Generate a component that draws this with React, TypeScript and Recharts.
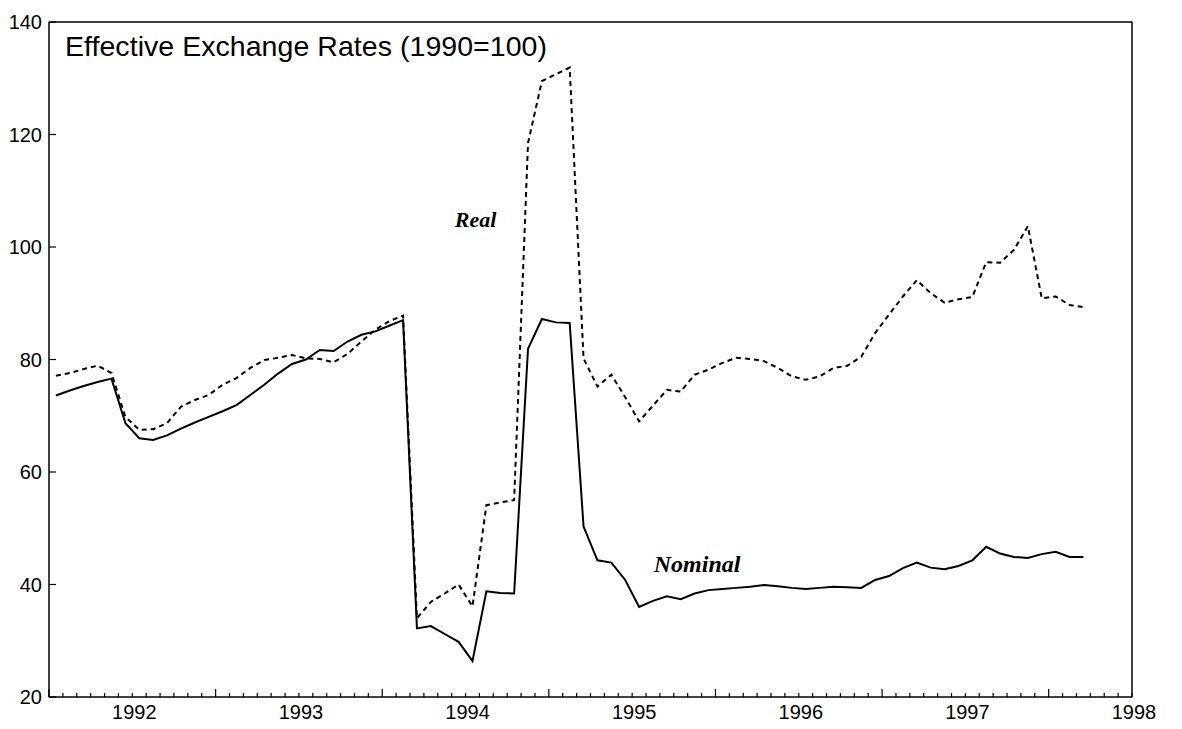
import React from "react";
import { LineChart, Line, XAxis, YAxis, ReferenceLine, ReferenceDot } from "recharts";

// Monthly series, July 1991 .. September 1997
const startYear = 1991;
const startMonth = 6; // July (0-based)

const nominal = [
  // 1991 Jul-Dec
  73.6, 74.5, 75.3, 76.0, 76.6, 68.7,
  // 1992
  66.0, 65.7, 66.5, 67.7, 68.8, 69.8, 70.8, 71.9, 73.7, 75.5, 77.5, 79.2,
  // 1993
  80.0, 81.7, 81.5, 83.2, 84.4, 85.0, 86.0, 87.0, 32.2, 32.6, 31.2, 29.8,
  // 1994
  26.4, 38.8, 38.5, 38.4, 81.9, 87.2, 86.6, 86.5, 50.3, 44.3, 43.9, 40.8,
  // 1995
  36.0, 37.1, 37.9, 37.4, 38.4, 39.0, 39.2, 39.4, 39.6, 39.9, 39.7, 39.4,
  // 1996
  39.2, 39.4, 39.6, 39.5, 39.4, 40.8, 41.5, 42.9, 43.9, 43.0, 42.7, 43.3,
  // 1997 Jan-Sep
  44.3, 46.7, 45.5, 44.9, 44.7, 45.4, 45.8, 44.9, 44.9,
];

const real = [
  // 1991 Jul-Dec
  77.1, 77.6, 78.3, 78.9, 77.6, 69.8,
  // 1992
  67.5, 67.6, 68.7, 71.6, 72.8, 73.7, 75.5, 76.7, 78.5, 79.9, 80.3, 80.8,
  // 1993
  80.2, 80.1, 79.5, 81.0, 83.2, 85.3, 86.8, 87.8, 34.0, 36.9, 38.4, 40.0,
  // 1994
  36.1, 54.1, 54.6, 55.0, 118.5, 129.5, 130.7, 131.9, 80.2, 75.2, 77.3, 73.3,
  // 1995
  69.0, 71.8, 74.6, 74.3, 77.3, 78.2, 79.4, 80.3, 80.1, 79.7, 78.5, 77.0,
  // 1996
  76.4, 77.0, 78.5, 78.9, 80.5, 84.7, 88.0, 91.2, 94.1, 91.8, 90.1, 90.7,
  // 1997 Jan-Sep
  91.1, 97.3, 97.2, 99.5, 103.7, 90.9, 91.2, 89.7, 89.3,
];

const yTicks = [20, 40, 60, 80, 100, 120, 140];
const xDomain = [1991.5, 1998];
const titleText = "Effective Exchange Rates (1990=100)";
const realLabel = { text: "Real", x: 1994.06, y: 105 };
const nominalLabel = { text: "Nominal", x: 1995.39, y: 43.8 };

const data = nominal.map((n, i) => ({
  t: startYear + (startMonth + i + 0.5) / 12,
  nominal: n,
  real: real[i],
}));

// monthly tick marks along the time axis
const monthTicks = Array.from({ length: 79 }, (_, k) => xDomain[0] + k / 12);

const AXIS_FONT = "'Liberation Sans', Arial, sans-serif";
const TICK_FS = 20;

const XTick = (props: any) => {
  const { x, y, payload } = props;
  const v = payload.value as number;
  const frac = v - Math.floor(v + 1e-6);
  const isJan = Math.abs(frac) < 1e-6;
  const isJul = Math.abs(frac - 0.5) < 1e-6;
  const len = isJul ? 8 : 4;
  return (
    <g>
      <line x1={x} x2={x} y1={y} y2={y - len} stroke="#000" strokeWidth={1.2} />
      {isJan && (
        <text x={x + 2} y={y + 22} textAnchor="middle" fontFamily={AXIS_FONT} fontSize={TICK_FS} fill="#000">
          {Math.round(v)}
        </text>
      )}
    </g>
  );
};

const LeftTick = (props: any) => {
  const { x, y, payload } = props;
  return (
    <g>
      <line x1={x} x2={x + 7} y1={y} y2={y} stroke="#000" strokeWidth={1.2} />
      <text x={x - 7} y={y} dy="0.35em" textAnchor="end" fontFamily={AXIS_FONT} fontSize={TICK_FS} fill="#000">
        {payload.value}
      </text>
    </g>
  );
};

const RightTick = (props: any) => {
  const { x, y, payload } = props;
  return (
    <g>
      <line x1={x} x2={x - 7} y1={y} y2={y} stroke="#000" strokeWidth={1.2} />
      <text x={x + 10} y={y} dy="0.35em" textAnchor="start" fontFamily={AXIS_FONT} fontSize={TICK_FS} fill="#000">
        {payload.value}
      </text>
    </g>
  );
};

const makeSeriesLabel = (text: string, size: number) => (props: any) => {
  const vb = props.viewBox || {};
  const cx = (vb.x || 0) + (vb.width || 0) / 2;
  const cy = (vb.y || 0) + (vb.height || 0) / 2;
  return (
    <text
      x={cx}
      y={cy}
      dy="0.35em"
      textAnchor="middle"
      fontFamily="'Liberation Serif', 'Times New Roman', serif"
      fontStyle="italic"
      fontWeight="bold"
      fontSize={size}
      fill="#000"
    >
      {text}
    </text>
  );
};

export default function App() {
  return (
    <div style={{ width: 1174, height: 721 }}>
      <LineChart
        width={1174}
        height={721}
        data={data}
        margin={{ top: 14, right: 0, bottom: 0, left: 0 }}
      >
        <XAxis
          dataKey="t"
          type="number"
          domain={xDomain}
          ticks={monthTicks}
          interval={0}
          allowDataOverflow
          height={32}
          tickSize={0}
          tickMargin={0}
          tickLine={false}
          axisLine={{ stroke: "#000", strokeWidth: 1.5 }}
          tick={<XTick />}
        />
        <YAxis
          yAxisId="left"
          orientation="left"
          domain={[20, 140]}
          ticks={yTicks}
          interval={0}
          width={41}
          tickSize={0}
          tickMargin={0}
          tickLine={false}
          axisLine={{ stroke: "#000", strokeWidth: 1.5 }}
          tick={<LeftTick />}
        />
        <YAxis
          yAxisId="right"
          orientation="right"
          domain={[20, 140]}
          ticks={yTicks}
          interval={0}
          width={50}
          tickSize={0}
          tickMargin={0}
          tickLine={false}
          axisLine={{ stroke: "#000", strokeWidth: 1.5 }}
          tick={<RightTick />}
        />
        <ReferenceLine yAxisId="left" y={140} stroke="#000" strokeWidth={1.5} />
        <Line
          yAxisId="left"
          type="linear"
          dataKey="real"
          stroke="#000"
          strokeWidth={2}
          strokeDasharray="5 4"
          dot={false}
          isAnimationActive={false}
        />
        <Line
          yAxisId="left"
          type="linear"
          dataKey="nominal"
          stroke="#000"
          strokeWidth={2}
          dot={false}
          isAnimationActive={false}
        />
        <ReferenceDot
          yAxisId="left"
          x={realLabel.x}
          y={realLabel.y}
          r={0}
          fill="none"
          stroke="none"
          label={makeSeriesLabel(realLabel.text, 22)}
        />
        <ReferenceDot
          yAxisId="left"
          x={nominalLabel.x}
          y={nominalLabel.y}
          r={0}
          fill="none"
          stroke="none"
          label={makeSeriesLabel(nominalLabel.text, 24)}
        />
        <text
          x={57}
          y={48}
          fontFamily={AXIS_FONT}
          fontSize={28.5}
          textLength={482}
          lengthAdjust="spacing"
          fill="#000"
        >
          {titleText}
        </text>
      </LineChart>
    </div>
  );
}
